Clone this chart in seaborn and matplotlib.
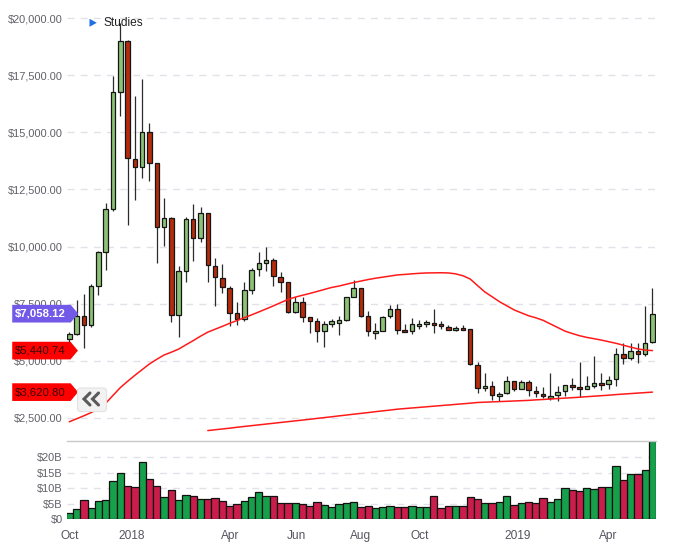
import numpy as np
import pandas as pd
import matplotlib
matplotlib.use("Agg")
import matplotlib.pyplot as plt
import matplotlib.transforms as mtransforms
from matplotlib.patches import FancyBboxPatch, Polygon
from matplotlib.lines import Line2D
from matplotlib.path import Path
import seaborn as sns

# ---------------- data (weekly candles) ----------------
opens = [5966, 6185, 6973, 6548, 8287, 9776, 11663, 16784, 19018, 13849,
         13499, 15032, 13674, 10871, 11265, 6986, 8944, 11222, 10389, 11484,
         9163, 8637, 8199, 7104, 6842, 8112, 9032, 9294, 9426, 8681,
         8462, 7148, 7556, 6929, 6754, 6316, 6623, 6666, 6780, 7775,
         8199, 6955, 6228, 6316, 6973, 7280, 6360, 6316, 6535, 6592,
         6666, 6623, 6491, 6360, 6447, 6403, 4826, 3819, 3907, 3469,
         3600, 4126, 3776, 4082, 3688, 3557, 3381, 3513, 3688, 3951,
         3863, 3776, 3907, 4038, 3995, 4213, 5309, 5133, 5440, 5309,
         5834]
closes = [6154, 6973, 6579, 8287, 9776, 11663, 16784, 19018, 13893, 13499,
          15032, 13674, 10871, 11248, 6986, 8944, 11222, 10389, 11484, 9207,
          8681, 8213, 7104, 6842, 8112, 8988, 9294, 9426, 8725, 8462,
          7148, 7556, 6929, 6754, 6316, 6623, 6723, 6767, 7775, 8199,
          6955, 6316, 6316, 6929, 7280, 6360, 6272, 6623, 6623, 6680,
          6579, 6535, 6360, 6447, 6360, 4870, 3819, 3907, 3513, 3557,
          4126, 3776, 4082, 3732, 3600, 3469, 3469, 3644, 3951, 3863,
          3776, 3907, 4038, 3951, 4170, 5309, 5133, 5440, 5309, 5790,
          7058.12]
highs = [6264, 7656, 7906, 8344, 9790, 11896, 17454, 19783, 19062, 16579,
         17323, 15426, 13674, 12111, 11290, 9145, 11309, 11848, 11747, 11484,
         9513, 9220, 8272, 7556, 8462, 9075, 9776, 9995, 9513, 8870,
         8462, 7805, 7805, 6929, 6868, 6723, 6841, 6955, 7805, 8532,
         8199, 7174, 6666, 6973, 7424, 7468, 6623, 6855, 6768, 6768,
         7280, 6737, 6579, 6535, 6579, 6403, 4958, 4476, 4126, 3644,
         4345, 4126, 4170, 4170, 3907, 3863, 4476, 3907, 3951, 4257,
         4958, 4345, 5221, 4476, 4345, 5571, 5790, 5790, 5790, 7380,
         8169]
lows = [5820, 6123, 5554, 6474, 7862, 8965, 11554, 15715, 10941, 12036,
        13000, 12868, 9264, 10021, 6693, 6053, 8445, 9364, 10197, 8445,
        7393, 7950, 6517, 6561, 6754, 7919, 8707, 8926, 8270, 8007,
        7100, 7100, 6693, 6211, 5817, 5615, 6491, 6123, 6754, 7775,
        6929, 6079, 5966, 6316, 6868, 6184, 6250, 6184, 6403, 6491,
        6228, 6403, 6340, 6316, 6340, 4826, 3600, 3688, 3294, 3250,
        3557, 3688, 3776, 3469, 3425, 3381, 3294, 3250, 3469, 3732,
        3425, 3776, 3819, 3732, 3776, 3907, 4870, 5045, 4914, 5221,
        5790]
volumes_b = [1.84, 3.1, 6.05, 3.46, 5.84, 6.05, 12.2, 14.8, 10.6, 10.3,
             18.4, 12.9, 10.6, 7.0, 9.3, 6.05, 7.7, 7.35, 6.4, 6.4,
             6.7, 5.7, 4.1, 4.75, 5.7, 7.0, 8.65, 7.35, 7.35, 5.1,
             5.1, 5.1, 4.75, 4.1, 5.4, 4.4, 3.8, 4.75, 5.1, 5.5,
             3.8, 4.1, 3.46, 3.8, 4.1, 3.8, 3.8, 4.1, 3.8, 3.8,
             7.35, 3.46, 4.1, 4.1, 4.1, 7.0, 6.4, 5.1, 5.1, 5.4,
             7.35, 4.4, 5.1, 5.4, 5.1, 6.7, 5.4, 6.4, 9.95, 9.3,
             8.97, 9.95, 9.6, 10.3, 10.3, 17.1, 12.5, 14.5, 14.5, 15.8,
             25.2]
ma_long = [2321, 2453, 2584, 2724, 2904, 3132, 3478, 3819, 4095, 4358,
           4608, 4857, 5059, 5247, 5370, 5506, 5694, 5878, 6071, 6250,
           6377, 6504, 6636, 6758, 6881, 7004, 7135, 7266, 7402, 7542,
           7683, 7783, 7866, 7945, 8033, 8121, 8208, 8269, 8348, 8423,
           8488, 8554, 8611, 8659, 8707, 8756, 8778, 8804, 8826, 8843,
           8847, 8852, 8843, 8804, 8721, 8576, 8291, 8011, 7801, 7586,
           7407, 7227, 7096, 6969, 6877, 6767, 6609, 6452, 6294, 6189,
           6093, 6018, 5961, 5900, 5830, 5760, 5676, 5593, 5514, 5462,
           5440.74]
ma_longer_start = 19
ma_longer = [1936, 1971, 2006, 2041, 2080, 2116, 2151, 2186, 2221, 2256,
             2291, 2326, 2361, 2396, 2431, 2470, 2505, 2540, 2580, 2615,
             2654, 2689, 2724, 2764, 2799, 2834, 2873, 2900, 2926, 2952,
             2978, 3005, 3031, 3057, 3084, 3110, 3136, 3167, 3180, 3193,
             3206, 3219, 3232, 3246, 3259, 3281, 3298, 3320, 3338, 3359,
             3377, 3399, 3421, 3443, 3465, 3486, 3513, 3535, 3557, 3578,
             3600, 3620.8]
price_ticks = [2500, 5000, 7500, 10000, 12500, 15000, 17500, 20000]
volume_ticks_b = [0, 5, 10, 15, 20]
xtick_pos = [0, 8.5, 22.0, 31.1, 40.0, 48.1, 61.5, 73.9]
xtick_labels = ["Oct", "2018", "Apr", "Jun", "Aug", "Oct", "2019", "Apr"]
price_tags = [(7058.12, "$7,058.12", "#7259e8", "white", "bold"),
              (5440.74, "$5,440.74", "#ff0000", "#3a0606", "normal"),
              (3620.80, "$3,620.80", "#ff0000", "#3a0606", "normal")]

# ---------------- style ----------------
sns.set_theme(style="white")
plt.rcParams['font.family'] = ['Liberation Sans', 'DejaVu Sans']

W, H = 674, 553
fig = plt.figure(figsize=(W / 100, H / 100), dpi=100)
fig.patch.set_facecolor("white")


def px_axes(l, t, r, b):
    return fig.add_axes([l / W, 1 - b / H, (r - l) / W, (b - t) / H])


class TagBox:
    """Label box with a small pointed tip on the right."""
    def __init__(self, pad=0.25):
        self.pad = pad

    def __call__(self, x0, y0, width, height, mutation_size):
        p = mutation_size * self.pad
        x0 -= p
        y0 -= p * 1.25
        x1 = x0 + width + 2 * p + 1.5
        y1 = y0 + height + 2.5 * p
        tip = (y1 - y0) * 0.42
        verts = [(x0, y0), (x1, y0), (x1 + tip, (y0 + y1) / 2), (x1, y1),
                 (x0, y1), (x0, y0)]
        codes = [Path.MOVETO] + [Path.LINETO] * 4 + [Path.CLOSEPOLY]
        return Path(verts, codes)


ax = px_axes(67, 8, 656.1, 441)
axv = px_axes(67, 441.3, 656.1, 519)

n = len(opens)
idx = np.arange(n)
o = np.array(opens, float)
c = np.array(closes, float)
hi = np.array(highs, float)
lo = np.array(lows, float)
up = c >= o

GREEN_C, RED_C = "#8cc176", "#b52b0b"
GREEN_V, RED_V = "#00b746", "#e8003f"

# candles
ax.vlines(idx, lo, hi, color="#2b2b2b", lw=0.9, zorder=2)
body_bottom = np.minimum(o, c)
body_h = np.maximum(np.abs(c - o), 50)
ax.bar(idx, body_h, bottom=body_bottom, width=0.62,
       color=[GREEN_C if u else RED_C for u in up],
       edgecolor="#151515", linewidth=0.9, zorder=3)

# moving averages
sns.lineplot(x=idx, y=ma_long, color="#ff1a1a", lw=1.1, ax=ax, zorder=4)
sns.lineplot(x=idx[ma_longer_start:], y=ma_longer, color="#ff1a1a", lw=1.1,
             ax=ax, zorder=4)

ax.set_xlim(-0.315, 80.5)
ax.set_ylim(1479, 20453)
ax.set_yticks(price_ticks)
ax.set_yticklabels([f"${v:,.2f}" for v in price_ticks])
ax.set_xticks([])
ax.set_xlabel("")
ax.set_ylabel("")
ax.yaxis.grid(True, linestyle=(0, (5, 4.5)), color="#e1e1ea", lw=1)
ax.xaxis.grid(False)
ax.set_axisbelow(True)
for s in ax.spines.values():
    s.set_visible(False)
ax.tick_params(axis="y", length=0, pad=3, labelsize=7.9, labelcolor="#606068")

# volume
df_v = pd.DataFrame({"i": idx, "vol": np.array(volumes_b) * 1e9,
                     "dir": ["up" if u else "down" for u in up]})
sns.barplot(data=df_v, x="i", y="vol", hue="dir",
            palette={"up": GREEN_V, "down": RED_V}, dodge=False,
            native_scale=True, width=1.0, edgecolor="#111111",
            linewidth=0.9, errorbar=None, legend=False, ax=axv)
axv.set_xlim(-0.315, 80.5)
axv.set_ylim(0, 25.2e9)
axv.set_yticks([v * 1e9 for v in volume_ticks_b])
axv.set_yticklabels(["$0" if v == 0 else f"${v}B" for v in volume_ticks_b])
axv.set_xticks(xtick_pos)
axv.set_xticklabels(xtick_labels)
axv.set_xlabel("")
axv.set_ylabel("")
axv.yaxis.grid(True, linestyle=(0, (5, 4.5)), color="#e1e1ea", lw=1)
axv.set_axisbelow(True)
for k, s in axv.spines.items():
    s.set_visible(k == "top")
axv.spines["top"].set_color("#c8c8c8")
axv.spines["top"].set_linewidth(1)
axv.tick_params(axis="y", length=0, pad=3, labelsize=7.9, labelcolor="#606068")
axv.tick_params(axis="x", length=3, width=0.8, color="#d0d0d0", pad=5,
                labelsize=8.6, labelcolor="#555560")

# price tags at the left
trans = mtransforms.blended_transform_factory(fig.transFigure, ax.transData)
for val, txt, bg, fg, wt in price_tags:
    ax.text(15.3 / W, val, txt, transform=trans, ha="left", va="center",
            color=fg, fontsize=8.2, fontweight=wt, zorder=10, clip_on=False,
            bbox=dict(boxstyle=TagBox(0.27), fc=bg, ec="none"))

# pixel transform (origin top-left)
tpx = mtransforms.Affine2D().scale(1, -1).translate(0, H)

# "<<" button
btn = FancyBboxPatch((77.5, 388), 29, 23.5, boxstyle="round,pad=0,rounding_size=3",
                     fc="#f2f2f2", ec="#e2e2e2", lw=0.8, transform=tpx, zorder=20)
fig.add_artist(btn)
for x0 in (90, 98.5):
    fig.add_artist(Line2D([x0, x0 - 6, x0], [393, 399, 405], transform=tpx,
                          color="#5a5a5a", lw=2.2, solid_joinstyle="miter",
                          zorder=21))

# "Studies"
fig.add_artist(Polygon([(89.5, 18.8), (89.5, 26.8), (96.8, 22.8)], closed=True,
                       fc="#1f6fe5", ec="none", transform=tpx, zorder=20))
fig.text(103 / W, 1 - 22.5 / H, "Studies", ha="left", va="center",
         fontsize=8.6, color="#222222")

fig.savefig("out.png", dpi=100)
